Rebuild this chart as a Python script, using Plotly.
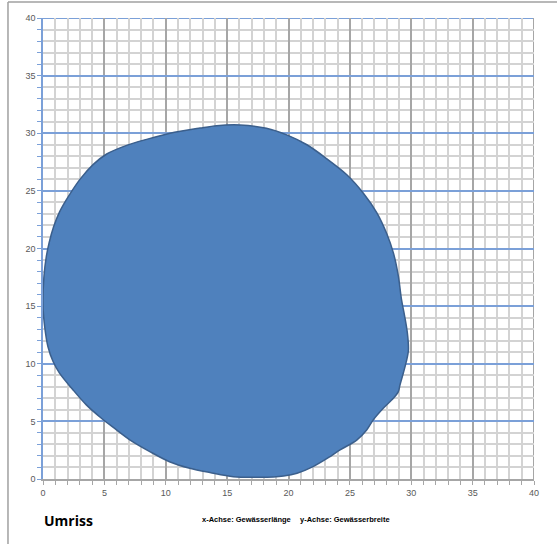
import plotly.graph_objects as go

# Outline of the water body (x = length, y = width), traced clockwise
outline_x = [0.0, 0.08, 0.27, 0.5, 0.87, 1.36, 2.06, 3.01, 4.1, 5.19, 6.82, 8.45, 10.35, 12.8,
             14.15, 16.05, 18.2, 19.85, 21.5, 23.1, 24.75, 26.1, 27.2, 28.0, 28.55, 28.95, 29.2,
             29.45, 29.68, 29.77, 29.6, 29.35, 29.08, 28.95, 28.54, 27.72, 26.9, 26.37, 25.56, 24.2,
             23.4, 22.0, 20.7, 19.6, 17.7, 15.5, 13.6, 11.96, 10.3, 8.7, 7.07, 5.7, 4.76, 3.53,
             2.45, 1.36, 0.82, 0.4, 0.14, 0.0]
outline_y = [15.0, 17.6, 19.3, 20.5, 21.9, 23.2, 24.5, 26.0, 27.3, 28.2, 28.95, 29.47, 30.0, 30.45,
             30.66, 30.72, 30.43, 29.86, 29.0, 27.8, 26.4, 24.8, 23.1, 21.3, 19.6, 17.6, 15.6,
             14.2, 12.7, 11.2, 10.2, 9.17, 8.16, 7.58, 7.0, 6.13, 5.12, 4.25, 3.38, 2.52,
             1.95, 1.07, 0.5, 0.27, 0.15, 0.2, 0.56, 0.93, 1.5, 2.38, 3.4, 4.5, 5.27, 6.43,
             7.73, 9.17, 10.2, 11.5, 13.2, 15.0]

tick_vals = [0, 5, 10, 15, 20, 25, 30, 35, 40]
tick_text = [str(v) for v in tick_vals]

title_text = "Umriss"
x_caption = "x-Achse: Gewässerlänge"
y_caption = "y-Achse: Gewässerbreite"

fig = go.Figure()
fig.add_trace(go.Scatter(
    x=outline_x, y=outline_y, mode="lines", fill="toself",
    fillcolor="#4f81bd", line=dict(color="#3b5f8c", width=1.5, shape="spline", smoothing=0.9),
    hoverinfo="skip", showlegend=False))

font_tick = dict(family="Liberation Sans, Arial", size=9, color="#595959")

fig.update_xaxes(
    range=[0, 40], tickvals=tick_vals, ticktext=tick_text, tickfont=font_tick,
    showgrid=True, gridcolor="#a6a6a6", gridwidth=2,
    zeroline=False, showline=True, linecolor="#a6a6a6", linewidth=1.5,
    ticks="outside", ticklen=4, tickcolor="#a6a6a6",
    minor=dict(dtick=1, showgrid=True, gridcolor="#d3d3d3", gridwidth=2,
               ticks="outside", ticklen=4, tickcolor="#a6a6a6"),
    fixedrange=True)
fig.update_yaxes(
    range=[0, 40], tickvals=tick_vals, ticktext=tick_text, tickfont=font_tick,
    showgrid=True, gridcolor="#7ba0d8", gridwidth=2,
    zeroline=False, showline=True, linecolor="#7ba0d8", linewidth=1.5,
    ticks="outside", ticklen=4, tickcolor="#7ba0d8",
    minor=dict(dtick=1, showgrid=True, gridcolor="#d3d3d3", gridwidth=2,
               ticks="outside", ticklen=4, tickcolor="#7ba0d8"),
    fixedrange=True)

shapes = [
    dict(type="line", xref="x", yref="y", x0=0, x1=40, y0=40, y1=40,
         line=dict(color="#7ba0d8", width=2), layer="below"),
    dict(type="line", xref="x", yref="y", x0=40, x1=40, y0=0, y1=40,
         line=dict(color="#a6a6a6", width=2), layer="below"),
    dict(type="line", xref="paper", yref="paper", x0=-0.0713, x1=1.05, y0=1.0347, y1=1.0347,
         line=dict(color="#a0a0a0", width=1.5)),
    dict(type="line", xref="paper", yref="paper", x0=-0.0713, x1=-0.0713, y0=1.0347, y1=-0.15,
         line=dict(color="#a0a0a0", width=1.5)),
]

annotations = [
    dict(text=f"<b>{title_text}</b>", xref="paper", yref="paper", x=-0.002, y=-0.089,
         xanchor="left", yanchor="middle", showarrow=False,
         font=dict(family="Open Sans, Liberation Sans", size=14, color="#000000")),
    dict(text=f"<b>{x_caption}</b>", xref="paper", yref="paper", x=(200 - 43) / 491, y=-0.087,
         xanchor="left", yanchor="middle", showarrow=False,
         font=dict(family="Liberation Sans, Arial", size=7.5, color="#000000")),
    dict(text=f"<b>{y_caption}</b>", xref="paper", yref="paper", x=(298 - 43) / 491, y=-0.087,
         xanchor="left", yanchor="middle", showarrow=False,
         font=dict(family="Liberation Sans, Arial", size=7.5, color="#000000")),
]

fig.update_layout(
    width=557, height=544,
    margin=dict(l=43, r=23, t=18, b=65, autoexpand=False),
    paper_bgcolor="white", plot_bgcolor="white",
    shapes=shapes, annotations=annotations,
    showlegend=False)

fig.write_html("out.html", config={"displayModeBar": False},
               post_script="document.body.style.margin='0';document.body.style.overflow='hidden';")
